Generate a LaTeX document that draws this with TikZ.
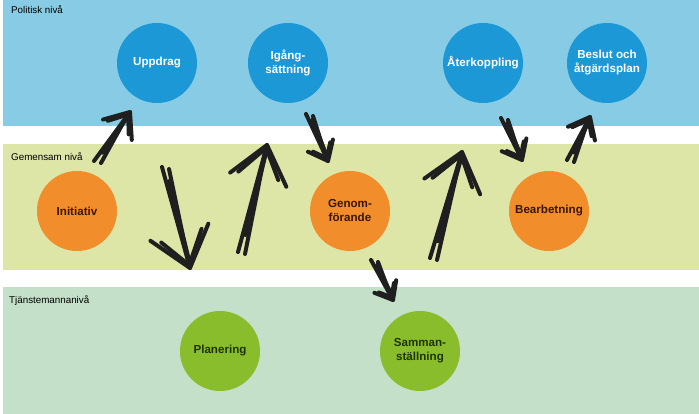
\documentclass[tikz,border=0pt]{standalone}
\usepackage{fontspec}
\setmainfont{Liberation Sans}
\usetikzlibrary{calc}

\definecolor{polband}{HTML}{87CCE4}
\definecolor{gemband}{HTML}{DDE5A7}
\definecolor{tjband}{HTML}{C4E0C9}
\definecolor{polfill}{HTML}{1C98D6}
\definecolor{gemfill}{HTML}{F28D2B}
\definecolor{tjfill}{HTML}{8ABD2B}
\definecolor{gemtext}{HTML}{3A1500}
\definecolor{tjtext}{HTML}{1E3300}

\tikzset{
  stage/.style={circle, minimum size=80pt, inner sep=0pt, align=center,
    font=\bfseries\fontsize{11.6}{14}\selectfont},
  polstage/.style={stage, fill=polfill, text=white},
  gemstage/.style={stage, fill=gemfill, text=gemtext},
  tjstage/.style={stage, fill=tjfill, text=tjtext},
  levellabel/.style={anchor=north west, inner sep=0pt,
    font=\fontsize{9.8}{11}\selectfont},
  sketch/.style={line width=4pt, draw=black!88, line cap=round, line join=round}
}

% hand drawn arrow: tail, tip, wing length (pt)
\newcommand{\sketcharrow}[3]{%
  \draw[sketch] (#1) -- (#2);
  \draw[sketch] ($(#1)+(7,2)$) -- ($(#2)!5pt!(#1)$);
  \draw[sketch] ($(#1)!0.15!(#2)+(3,-1)$) -- ($(#2)!2pt!(#1)+(1,0)$);
  \draw[sketch] ($(#2)!#3pt!40:(#1)$) -- (#2) -- ($(#2)!#3pt!-38:(#1)$);
  \draw[sketch] ($(#2)!0.8*#3pt!33:(#1)$) -- ($(#2)!3pt!(#1)$)
    -- ($(#2)!0.85*#3pt!-32:(#1)$);
}

\begin{document}
\begin{tikzpicture}[x=1pt, y=-1pt]
  \useasboundingbox (0,0) rectangle (699,414);
  % level bands
  \fill[polband] (3,0) rectangle (699,126);
  \fill[gemband] (3,144) rectangle (699,270);
  \fill[tjband] (3,287) rectangle (699,414);
  \node[levellabel] (pollabel) at (11,5) {Politisk nivå};
  \node[levellabel] (gemlabel) at (11,152) {Gemensam nivå};
  \node[levellabel] (tjlabel) at (9,295) {Tjänstemannanivå};

  % politisk niva
  \node[polstage] (uppdrag) at (157,63) {Uppdrag};
  \node[polstage] (igang) at (288,63) {Igång-\\sättning};
  \node[polstage] (aterk) at (483,63) {Återkoppling};
  \node[polstage] (beslut) at (607,63) {Beslut och\\åtgärdsplan};
  % gemensam niva
  \node[gemstage] (initiativ) at (77,211) {Initiativ};
  \node[gemstage] (genom) at (350,211) {Genom-\\förande};
  \node[gemstage] (bearb) at (549,211) {Bearbetning};
  % tjanstemannaniva
  \node[tjstage] (planering) at (220,351) {Planering};
  \node[tjstage] (samman) at (420,351) {Samman-\\ställning};

  % arrow ends
  \coordinate (s1) at (94,161);   \coordinate (t1) at (130,112);
  \coordinate (s2) at (162,167);  \coordinate (t2) at (190,268);
  \coordinate (s3) at (238,252);  \coordinate (t3) at (267,145);
  \coordinate (s4) at (306,114);  \coordinate (t4) at (328,161);
  \coordinate (s5) at (371,260);  \coordinate (t5) at (393,300);
  \coordinate (s6) at (430,258);  \coordinate (t6) at (462,152);
  \coordinate (s7) at (501,118);  \coordinate (t7) at (522,160);
  \coordinate (s8) at (567,160);  \coordinate (t8) at (590,117);

  \foreach \i/\w in {1/28, 2/48, 3/46, 4/22, 5/20, 6/46, 7/22, 8/24}
    {\sketcharrow{s\i}{t\i}{\w}}
\end{tikzpicture}
\end{document}
